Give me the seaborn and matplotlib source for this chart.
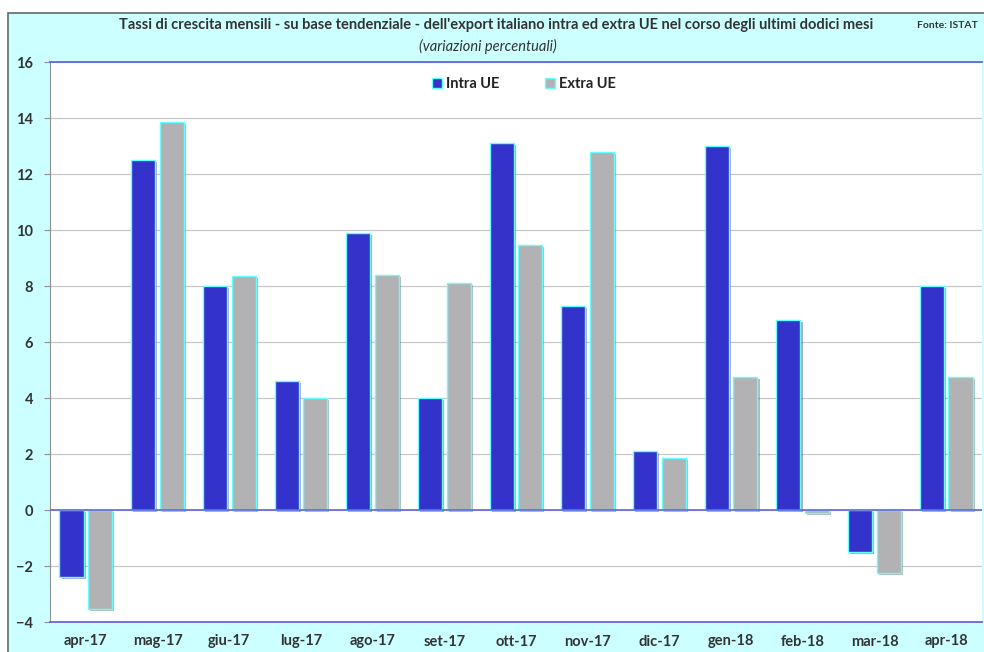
import numpy as np
import pandas as pd
import seaborn as sns
import matplotlib.pyplot as plt
import matplotlib.patheffects as pe
from matplotlib.patches import Rectangle
from matplotlib.lines import Line2D

months = ['apr-17', 'mag-17', 'giu-17', 'lug-17', 'ago-17', 'set-17', 'ott-17',
          'nov-17', 'dic-17', 'gen-18', 'feb-18', 'mar-18', 'apr-18']
intra_ue = [-2.4, 12.5, 8.0, 4.6, 9.9, 4.0, 13.1, 7.3, 2.1, 13.0, 6.8, -1.5, 8.0]
extra_ue = [-3.55, 13.85, 8.35, 4.0, 8.4, 8.1, 9.45, 12.8, 1.85, 4.75, -0.1, -2.25, 4.75]
series = ['Intra UE', 'Extra UE']
colors = ['#3333CC', '#B2B2B4']

df = pd.DataFrame({'mese': months * 2,
                   'serie': [series[0]] * len(months) + [series[1]] * len(months),
                   'valore': intra_ue + extra_ue})

sns.set_style('white')
plt.rcParams['font.family'] = ['Lato', 'DejaVu Sans']

fig = plt.figure(figsize=(9.84, 6.52), dpi=100)
fig.patches.append(Rectangle((8 / 984, -0.1), 1.0, 1.0 - 13 / 652 + 0.1,
                             transform=fig.transFigure, facecolor='#CCFFFF',
                             edgecolor='#606868', linewidth=1.2, zorder=-10))
ax = fig.add_axes([50 / 984, 1 - 622 / 652, 932 / 984, 560 / 652])
ax.set_facecolor('white')

sns.barplot(data=df, x='mese', y='valore', hue='serie', palette=colors,
            saturation=1, gap=0.16, width=0.8, edgecolor='#66FFFF', linewidth=1.0,
            ax=ax, legend=False, zorder=3)
for bar in ax.patches:
    bar.set_path_effects([pe.SimplePatchShadow(offset=(1.5, -1.5), alpha=0.35),
                          pe.Normal()])

ax.set_ylim(-4, 16)
ax.set_yticks(range(-4, 17, 2))
ax.set_xlim(-0.5, len(months) - 0.5)
ax.yaxis.grid(True, color='#C8C8C8', linewidth=0.9, zorder=0)
ax.set_axisbelow(True)
ax.axhline(0, color='#6666DD', linewidth=1.2, zorder=4)

for side in ['top', 'bottom']:
    ax.spines[side].set_color('#6666DD')
    ax.spines[side].set_linewidth(1.3)
ax.spines['left'].set_color('#909090')
ax.spines['right'].set_visible(False)

ax.tick_params(axis='y', length=4, color='#909090', left=True, pad=8,
               labelsize=10.5, labelcolor='#333333')
ax.tick_params(axis='x', length=0, pad=9, labelsize=10.5, labelcolor='#333333')
for lab in ax.get_xticklabels() + ax.get_yticklabels():
    lab.set_fontweight('bold')
ax.set_xlabel('')
ax.set_ylabel('')

handles = [Line2D([], [], marker='s', linestyle='none', markersize=7,
                  markerfacecolor=c, markeredgecolor='#66FFFF', markeredgewidth=1.0,
                  label=s) for c, s in zip(colors, series)]
ax.legend(handles=handles, loc='upper center', bbox_to_anchor=(0.509, 0.997), ncol=2,
          frameon=False, prop={'weight': 'bold', 'size': 10.5}, handlelength=0.6,
          handletextpad=0.3, columnspacing=3.2, labelcolor='#222222')

fig.text(496 / 984, 1 - 25 / 652, "Tassi di crescita mensili - su base tendenziale - "
         "dell'export italiano intra ed extra UE nel corso degli ultimi dodici mesi",
         ha='center', va='center', fontsize=10.5, fontweight='bold', color='#333333')
fig.text(488 / 984, 1 - 46 / 652, '(variazioni percentuali)', ha='center', va='center',
         fontsize=10.5, fontstyle='italic', color='#333333')
fig.text(947 / 984, 1 - 25 / 652, 'Fonte: ISTAT', ha='center', va='center',
         fontsize=7.5, fontweight='bold', color='#333333')

fig.savefig('out.png', dpi=100)
